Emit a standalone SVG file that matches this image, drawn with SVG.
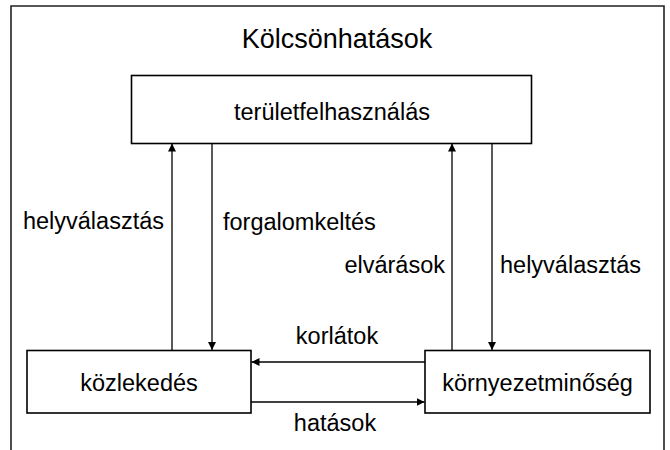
<svg xmlns="http://www.w3.org/2000/svg" width="670" height="450" viewBox="0 0 670 450">
<defs>
<marker id="ah" viewBox="0 0 10 10" refX="10" refY="5" markerWidth="8" markerHeight="10" markerUnits="userSpaceOnUse" orient="auto">
<path d="M0,0 L10,5 L0,10 Z" fill="#000"/>
</marker>
<style>
text{font-family:"Liberation Sans",Arial,Helvetica,sans-serif;fill:#000}
.lbl{font-size:23.5px}
.ttl{font-size:27px}
.box{fill:#fff;stroke:#000;stroke-width:1.6}
.con{stroke:#000;stroke-width:1.3;fill:none;marker-end:url(#ah)}
.plain{stroke:#000;stroke-width:1.3;fill:none}
</style>
</defs>
<rect width="670" height="450" fill="#fff"/>
<path d="M11,450 V6 H664 V450" fill="none" stroke="#222" stroke-width="1.6"/>
<text class="ttl" x="337" y="48" text-anchor="middle">Kölcsönhatások</text>
<g id="connectors">
<line class="con" x1="172" y1="350.5" x2="172" y2="143.5"/>
<line class="con" x1="212" y1="143.5" x2="212" y2="350"/>
<line class="con" x1="452" y1="350.5" x2="452" y2="143.5"/>
<line class="con" x1="492" y1="143.5" x2="492" y2="350"/>
<line class="con" x1="425" y1="362" x2="251.5" y2="362"/>
<line class="con" x1="251" y1="402" x2="424.5" y2="402"/>
<text class="lbl" x="164" y="229" text-anchor="end">helyválasztás</text>
<text class="lbl" x="223" y="230">forgalomkeltés</text>
<text class="lbl" x="445" y="273" text-anchor="end">elvárások</text>
<text class="lbl" x="500" y="273">helyválasztás</text>
<text class="lbl" x="337" y="344" text-anchor="middle">korlátok</text>
<text class="lbl" x="335" y="431" text-anchor="middle">hatások</text>
</g>
<g id="teruletfelhasznalas">
<rect class="box" x="131.5" y="75.5" width="400" height="68"/>
<text class="lbl" x="332" y="120" text-anchor="middle">területfelhasználás</text>
</g>
<g id="kozlekedes">
<rect class="box" x="27" y="350.5" width="224" height="62.5"/>
<text class="lbl" x="139" y="391" text-anchor="middle">közlekedés</text>
</g>
<g id="kornyezetminoseg">
<rect class="box" x="425" y="350.5" width="225" height="62.5"/>
<text class="lbl" x="537.5" y="391" text-anchor="middle">környezetminőség</text>
</g>
</svg>
